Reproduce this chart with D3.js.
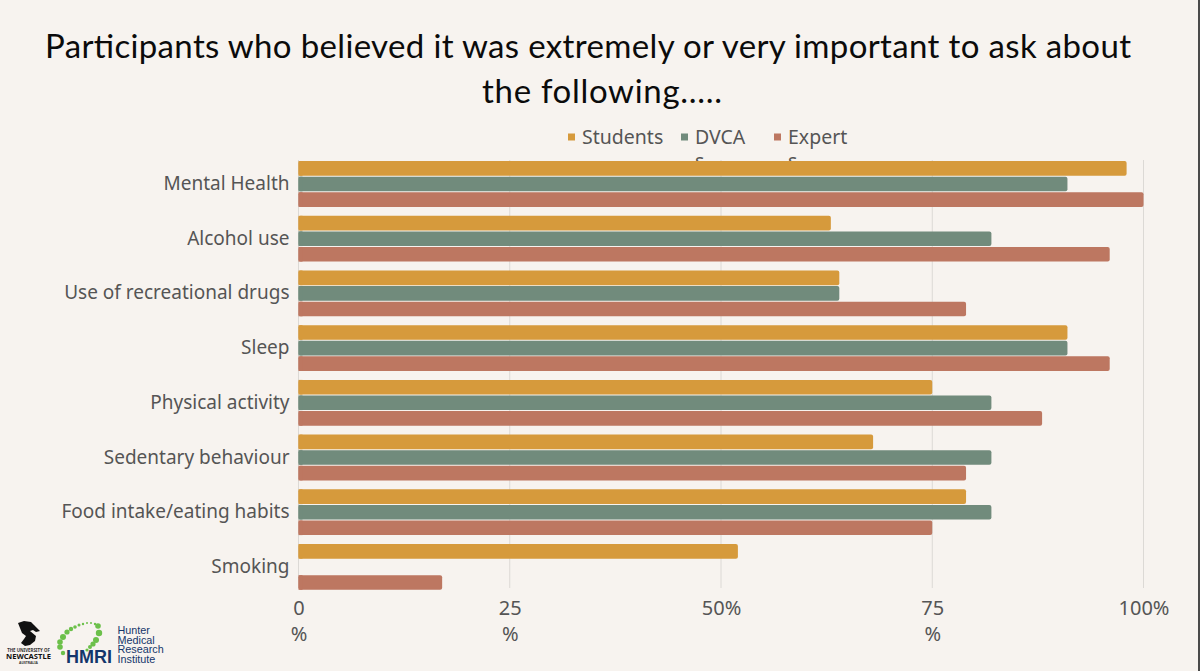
<!DOCTYPE html>
<html>
<head>
<meta charset="utf-8">
<script src="https://cdn.jsdelivr.net/npm/d3@7"></script>
<style>
  html, body { margin: 0; padding: 0; background: #f7f3ef; overflow: hidden; }
  text { font-family: "Noto Sans", sans-serif; }
</style>
</head>
<body>
<div class="chart"></div>
<script>
// chart data
var categories = ["Mental Health", "Alcohol use", "Use of recreational drugs", "Sleep",
  "Physical activity", "Sedentary behaviour", "Food intake/eating habits", "Smoking"];
var seriesNames = ["Students", "DVCAs", "Experts"];
var students = [98, 63, 64, 91, 75, 68, 79, 52];
var dvcas = [91, 82, 64, 91, 82, 82, 82, null];
var experts = [100, 96, 79, 96, 88, 79, 75, 17];
var tickValues = [0, 25, 50, 75, 100];
var tickLabels = [["0", "%"], ["25", "%"], ["50%"], ["75", "%"], ["100%"]];
var seriesColors = ["#d69a3c", "#718b7c", "#bd7761"];
var titleLines = ["Participants who believed it was extremely or very important to ask about", "the following....."];

var svgWidth = 1200;
var svgHeight = 671;
var textColor = "#555555";

var svg = d3.select(".chart")
  .append("svg")
  .attr("width", svgWidth)
  .attr("height", svgHeight)
  .style("display", "block");

svg.append("rect")
  .attr("width", svgWidth)
  .attr("height", svgHeight)
  .attr("fill", "#f7f3ef");

// dark sliver on the right edge of the screenshot
svg.append("rect")
  .attr("x", 1198)
  .attr("width", 2)
  .attr("height", svgHeight)
  .attr("fill", "#4a4a4a");

// title
svg.selectAll(".title")
  .data(titleLines)
  .enter()
  .append("text")
  .attr("class", "title")
  .attr("x", (d, i) => i === 0 ? 45 : 482)
  .attr("y", (d, i) => i === 0 ? 58 : 103)
  .attr("textLength", (d, i) => i === 0 ? 1086 : 240)
  .attr("lengthAdjust", "spacing")
  .attr("fill", "#0b0b0b")
  .style("font-family", "Lato, sans-serif")
  .style("font-size", "33px")
  .text(d => d);

// scales
var x = d3.scaleLinear().domain([0, 100]).range([298.5, 1143.5]);
var y = d3.scaleBand().domain(categories).range([156.6, 594.2]);
var yInner = d3.scaleBand().domain(seriesNames).range([4.5, 50.3]).paddingInner(0.06);

// legend, the second line of the wrapped names is cut off by the bars
var legendX = [568, 681, 774];
var legend = svg.selectAll(".legend")
  .data(seriesNames)
  .enter()
  .append("g")
  .attr("class", "legend")
  .attr("transform", (d, i) => `translate(${legendX[i]}, 137)`);

legend.append("rect")
  .attr("y", -3.5)
  .attr("width", 7)
  .attr("height", 7)
  .attr("fill", (d, i) => seriesColors[i]);

legend.append("text")
  .attr("x", 14)
  .attr("y", 6.5)
  .attr("fill", textColor)
  .style("font-size", "19.5px")
  .text(d => d === "Students" ? d : d.slice(0, -1));

legend.filter(d => d !== "Students")
  .append("text")
  .attr("x", 14)
  .attr("y", 31)
  .attr("fill", textColor)
  .style("font-size", "19.5px")
  .text("s");

// gridlines
svg.append("g")
  .selectAll("line")
  .data(tickValues)
  .enter()
  .append("line")
  .attr("x1", d => x(d))
  .attr("x2", d => x(d))
  .attr("y1", 160)
  .attr("y2", 588)
  .attr("stroke", "#dcd9d5")
  .attr("stroke-width", 1);

// bars
var allSeries = [students, dvcas, experts];
allSeries.forEach(function(values, s) {
  var rows = values.map((v, i) => ({ category: categories[i], value: v })).filter(d => d.value !== null);
  var group = svg.append("g");

  group.selectAll(".bar")
    .data(rows)
    .enter()
    .append("rect")
    .attr("class", "bar")
    .attr("x", x(0))
    .attr("y", d => y(d.category) + yInner(seriesNames[s]))
    .attr("width", d => x(d.value) - x(0))
    .attr("height", yInner.bandwidth())
    .attr("rx", 2)
    .attr("fill", seriesColors[s]);

  // square off the left side of the bars
  group.selectAll(".bar-start")
    .data(rows)
    .enter()
    .append("rect")
    .attr("class", "bar-start")
    .attr("x", x(0))
    .attr("y", d => y(d.category) + yInner(seriesNames[s]))
    .attr("width", 4)
    .attr("height", yInner.bandwidth())
    .attr("fill", seriesColors[s]);
});

// category axis
var leftAxis = d3.axisLeft(y).tickSize(0).tickPadding(9);
var yAxis = svg.append("g")
  .attr("transform", `translate(${x(0)}, 0)`)
  .call(leftAxis);
yAxis.select(".domain").remove();
yAxis.selectAll("text")
  .attr("fill", textColor)
  .style("font-family", "\"Noto Sans\", sans-serif")
  .style("font-size", "19px");

// value axis, narrow labels wrap onto a second line
var bottomAxis = d3.axisBottom(x).tickValues(tickValues).tickSize(0).tickFormat("");
var xAxis = svg.append("g")
  .attr("transform", "translate(0, 594)")
  .call(bottomAxis);
xAxis.select(".domain").remove();
xAxis.selectAll(".tick text")
  .attr("y", 0)
  .attr("dy", 0)
  .attr("fill", textColor)
  .style("font-family", "\"Noto Sans\", sans-serif")
  .style("font-size", "20px")
  .each(function(d, i) {
    d3.select(this).selectAll("tspan")
      .data(tickLabels[i])
      .enter()
      .append("tspan")
      .attr("x", 0)
      .attr("y", (t, k) => 21 + k * 26)
      .text(t => t);
  });

// logos bottom left
var logos = svg.append("g").attr("class", "logos");

logos.append("path")
  .attr("d", "M18 623 L24 621 L31 622 L34 625 L40 631 L36 632 L33 630 L30 631 L36 636 L35 641 L30 645 L25 646 L21 643 L24 639 L26 636 L22 633 L20 628 Z")
  .attr("fill", "#111");

var uniText = [["THE UNIVERSITY OF", 651.5, 4.4, "#333"], ["NEWCASTLE", 659, 7.6, "#111"], ["AUSTRALIA", 664, 3.4, "#333"]];
logos.selectAll(".uni")
  .data(uniText)
  .enter()
  .append("text")
  .attr("class", "uni")
  .attr("x", 28.5)
  .attr("y", d => d[1])
  .attr("text-anchor", "middle")
  .attr("fill", d => d[3])
  .style("font-size", d => d[2] + "px")
  .style("font-weight", "bold")
  .text(d => d[0]);

var hmriDots = [[63, 653, 2.2], [60, 647, 2.8], [60, 642, 2.8], [63, 637, 3], [67, 632, 2.6], [71, 629, 2.2],
  [75, 627, 1.8], [79, 625, 1.5], [83, 624, 1.2], [87, 623, 1], [91, 623, 1], [95, 624, 1.2],
  [98, 626, 2.8], [99, 633, 3.2], [96, 640, 3], [93, 644, 2.6], [90, 647, 2], [87, 650, 1.6]];
logos.selectAll("circle")
  .data(hmriDots)
  .enter()
  .append("circle")
  .attr("cx", d => d[0])
  .attr("cy", d => d[1])
  .attr("r", d => d[2])
  .attr("fill", "#6cc04a");

logos.append("text")
  .attr("x", 66)
  .attr("y", 663)
  .attr("fill", "#14366b")
  .style("font-family", "\"Liberation Sans\", sans-serif")
  .style("font-size", "18px")
  .style("font-weight", "bold")
  .text("HMRI");

logos.selectAll(".hunter")
  .data(["Hunter", "Medical", "Research", "Institute"])
  .enter()
  .append("text")
  .attr("class", "hunter")
  .attr("x", 117.5)
  .attr("y", (d, i) => 634 + i * 9.7)
  .attr("fill", "#14366b")
  .style("font-family", "\"Liberation Sans\", sans-serif")
  .style("font-size", "10.8px")
  .text(d => d);
</script>
</body>
</html>
